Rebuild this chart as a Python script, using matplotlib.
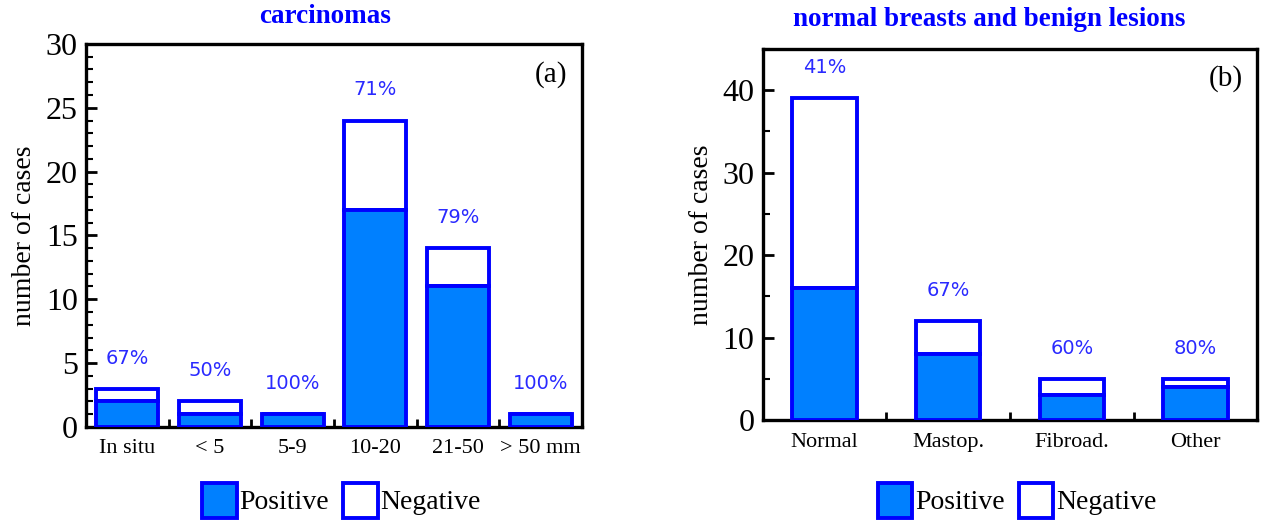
import matplotlib
matplotlib.use('Agg')
import matplotlib.pyplot as plt
from matplotlib.patches import Patch
from matplotlib.ticker import MultipleLocator, FixedLocator
import numpy as np

# carcinomas by size
size_labels = ['In situ', '< 5', '5-9', '10-20', '21-50', '> 50 mm']
size_positive = [2, 1, 1, 17, 11, 1]
size_negative = [1, 1, 0, 7, 3, 0]
size_percent = ['67%', '50%', '100%', '71%', '79%', '100%']

# normal breasts and benign lesions
benign_labels = ['Normal', 'Mastop.', 'Fibroad.', 'Other']
benign_positive = [16, 8, 3, 4]
benign_negative = [23, 4, 2, 1]
benign_percent = ['41%', '67%', '60%', '80%']

FILL = '#0080ff'
EDGE = '#0000ff'
PCT_COLOR = '#2a2aff'
SERIF = 'Liberation Serif'

plt.rcParams['font.family'] = SERIF


def draw_panel(ax, labels, positive, negative, percent, width, ymax, major, minor, tag, legend_x):
    x = np.arange(len(labels))
    pos = np.array(positive)
    neg = np.array(negative)
    ax.bar(x, pos, width, color=FILL, edgecolor=EDGE, linewidth=2.8, zorder=3)
    ax.bar(x, neg, width, bottom=pos, color='white', edgecolor=EDGE, linewidth=2.8, zorder=2)
    for xi, top, txt in zip(x, pos + neg, percent):
        ax.annotate(txt, (xi, top), xytext=(0, 22), textcoords='offset points',
                    ha='center', va='center', color=PCT_COLOR, fontsize=14,
                    family='DejaVu Sans')
    ax.set_xlim(-0.5, len(labels) - 0.5)
    ax.set_ylim(0, ymax)
    ax.yaxis.set_major_locator(MultipleLocator(major))
    ax.yaxis.set_minor_locator(MultipleLocator(minor))
    ax.set_xticks(x)
    ax.set_xticklabels(labels, fontsize=16)
    ax.xaxis.set_minor_locator(FixedLocator(np.arange(0.5, len(labels) - 0.5, 1)))
    ax.tick_params(axis='x', which='major', length=0, pad=9)
    ax.tick_params(axis='x', which='minor', direction='in', length=6, width=2)
    ax.tick_params(axis='y', which='major', direction='in', length=8, width=2, labelsize=23, pad=6)
    ax.tick_params(axis='y', which='minor', direction='in', length=5, width=1.5)
    for s in ax.spines.values():
        s.set_linewidth(2.4)
    ax.set_ylabel('number of cases', fontsize=20, labelpad=6)
    ax.text(0.97, 0.92, tag, transform=ax.transAxes, ha='right', va='center', fontsize=21)
    handles = [Patch(facecolor=FILL, edgecolor=EDGE, linewidth=2.8, label='Positive'),
               Patch(facecolor='white', edgecolor=EDGE, linewidth=2.8, label='Negative')]
    ax.legend(handles=handles, loc='center', bbox_to_anchor=(legend_x, 0.038),
              bbox_transform=fig.transFigure, ncol=2, frameon=False, fontsize=20,
              handlelength=1.25, handleheight=1.55, handletextpad=0.1, columnspacing=0.5,
              borderpad=0)


fig = plt.figure(figsize=(12.65, 5.2), dpi=100)
ax1 = fig.add_axes([0.068, 0.179, 0.392, 0.7365])
ax2 = fig.add_axes([0.603, 0.1923, 0.391, 0.7135])

draw_panel(ax1, size_labels, size_positive, size_negative, size_percent, 0.75, 30, 5, 1, '(a)', 0.27)
draw_panel(ax2, benign_labels, benign_positive, benign_negative, benign_percent, 0.52, 45, 10, 5, '(b)', 0.804)

fig.text(0.257, 0.968, 'carcinomas', ha='center', va='center', color='#0000ff',
         fontsize=19.5, fontweight='bold')
fig.text(0.782, 0.962, 'normal breasts and benign lesions', ha='center', va='center',
         color='#0000ff', fontsize=19.5, fontweight='bold')

fig.savefig('out.png', dpi=100)
